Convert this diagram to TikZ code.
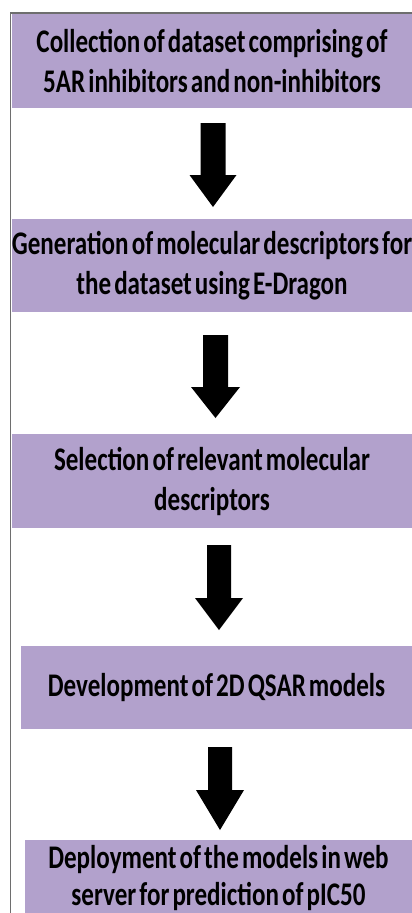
\documentclass[tikz,border=0pt]{standalone}
\usepackage{fontspec}
\setmainfont{Carlito}[BoldFont={* Bold}]
\newfontfamily\boxfont{Carlito Bold}[FakeStretch=0.76,WordSpace=0.55]
\definecolor{boxpurple}{RGB}{178,161,204}
\definecolor{frameGrey}{RGB}{110,110,110}
\tikzset{
  stepbox/.style={fill=boxpurple, draw=none, inner sep=0pt, align=center,
    font=\boxfont\fontsize{33}{40}\selectfont, text=black},
  blockarrow/.style={fill=black, draw=none},
}
% #1 name, #2 centre x, #3 shaft half width, #4 head half width, #5 top, #6 head top, #7 tip
\newcommand\myBlockArrow[7]{%
  \coordinate (#1top) at (#2,#5);
  \coordinate (#1tip) at (#2,#7);
  \fill[blockarrow] (#2-#3,#5) -- (#2+#3,#5) -- (#2+#3,#6) -- (#2+#4,#6)
    -- (#1tip) -- (#2-#4,#6) -- (#2-#3,#6) -- cycle;
}
\begin{document}
\begin{tikzpicture}[x=1pt,y=-1pt]
\clip (0,0) rectangle (412,913);
\fill[white] (0,0) rectangle (412,913);
% boxes
\node[stepbox, minimum width=400pt, minimum height=94pt] (b1) at (212,61)
  {Collection of dataset comprising of\\5AR inhibitors and non-inhibitors};
\node[stepbox, minimum width=400pt, minimum height=93pt] (b2) at (212,265.5)
  {Generation of molecular descriptors for\\the dataset using E-Dragon};
\node[stepbox, minimum width=400pt, minimum height=94pt] (b3) at (212,481)
  {Selection of relevant molecular\\descriptors};
\node[stepbox, minimum width=391pt, minimum height=83pt] (b4) at (216.5,687.5)
  {Development of 2D QSAR models};
\fill[boxpurple] (25,840) rectangle (412,913);
\node[stepbox, fill=none, font=\boxfont\fontsize{33}{37}\selectfont] (b5) at (218.5,878)
  {Deployment of the models in web\\server for prediction of pIC50};
% block arrows
\myBlockArrow{a1}{213}{12.5}{23.5}{123}{175}{207}
\myBlockArrow{a2}{215.5}{12.5}{24.5}{335}{387}{418}
\myBlockArrow{a3}{219}{12}{24}{545}{598}{630}
\myBlockArrow{a4}{220}{12}{24}{747}{790}{830}
% window frame
\draw[frameGrey, line width=1.5pt] (10.5,913) -- (10.5,13) -- (412,13);
\end{tikzpicture}
\end{document}
